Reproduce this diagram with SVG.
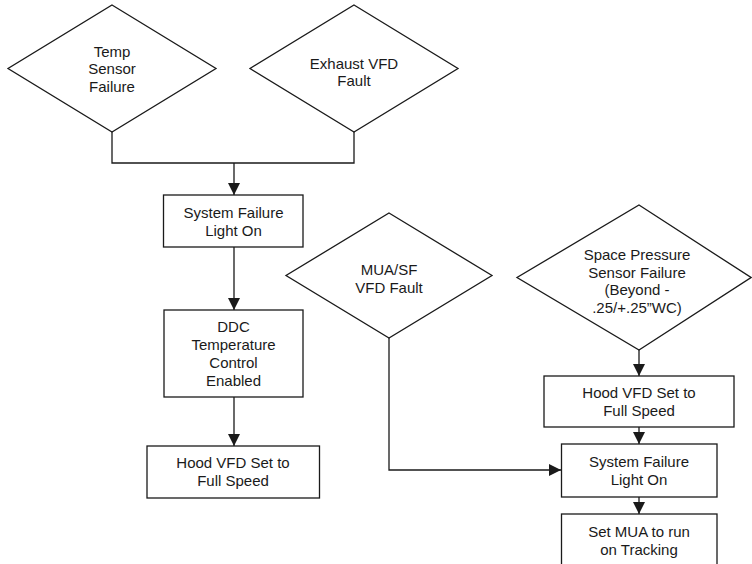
<svg xmlns="http://www.w3.org/2000/svg" width="752" height="564" viewBox="0 0 752 564">
<defs>
<style>
.s{fill:#fff;stroke:#1a1a1a;stroke-width:1.3}
.c{fill:none;stroke:#1a1a1a;stroke-width:1.3}
text{font-family:"Liberation Sans",Arial,sans-serif;font-size:15px;fill:#1a1a1a;text-anchor:middle}
</style>
<marker id="ah" markerUnits="userSpaceOnUse" markerWidth="12" markerHeight="12" viewBox="0 0 10 10" refX="10" refY="5" orient="auto">
<path d="M0,0 L10,5 L0,10 Z" fill="#1a1a1a"/>
</marker>
</defs>
<rect width="752" height="564" fill="#fff"/>
<g id="connectors">
<path class="c" d="M112,132 V163 H354 V132"/>
<path class="c" d="M234,163 V195" marker-end="url(#ah)"/>
<path class="c" d="M234,247 V310" marker-end="url(#ah)"/>
<path class="c" d="M234,397 V446" marker-end="url(#ah)"/>
<path class="c" d="M389,338 V470 H561" marker-end="url(#ah)"/>
<path class="c" d="M639,350 V376" marker-end="url(#ah)"/>
<path class="c" d="M639,427 V444" marker-end="url(#ah)"/>
<path class="c" d="M639,497 V514" marker-end="url(#ah)"/>
</g>
<g id="temp-sensor">
<polygon class="s" points="112,5 216,68.5 112,132 8,68.5"/>
<text x="112" y="57">Temp</text>
<text x="112" y="74">Sensor</text>
<text x="112" y="91.5">Failure</text>
</g>
<g id="exhaust-vfd">
<polygon class="s" points="354,5 458,68.5 354,132 250,68.5"/>
<text x="354" y="68.5">Exhaust VFD</text>
<text x="354" y="86">Fault</text>
</g>
<g id="sys-fail-1">
<rect class="s" x="163.5" y="195" width="139.5" height="52"/>
<text x="233.5" y="218">System Failure</text>
<text x="233.5" y="235.5">Light On</text>
</g>
<g id="ddc">
<rect class="s" x="164" y="310" width="139" height="87"/>
<text x="233.5" y="332">DDC</text>
<text x="233.5" y="350">Temperature</text>
<text x="233.5" y="368">Control</text>
<text x="233.5" y="386">Enabled</text>
</g>
<g id="hood-vfd-1">
<rect class="s" x="147" y="446" width="172.5" height="52"/>
<text x="233" y="468">Hood VFD Set to</text>
<text x="233" y="486">Full Speed</text>
</g>
<g id="mua-sf">
<polygon class="s" points="389,213 492,275.5 389,338 286,275.5"/>
<text x="389" y="275">MUA/SF</text>
<text x="389" y="293">VFD Fault</text>
</g>
<g id="space-pressure">
<polygon class="s" points="639,205 751,277.5 639,350 517,277.5"/>
<text x="637" y="260">Space Pressure</text>
<text x="637" y="278">Sensor Failure</text>
<text x="637" y="295">(Beyond -</text>
<text x="637" y="313">.25/+.25”WC)</text>
</g>
<g id="hood-vfd-2">
<rect class="s" x="544" y="376" width="190" height="51"/>
<text x="639" y="398">Hood VFD Set to</text>
<text x="639" y="416">Full Speed</text>
</g>
<g id="sys-fail-2">
<rect class="s" x="561.5" y="444" width="155.5" height="53"/>
<text x="639" y="467">System Failure</text>
<text x="639" y="485">Light On</text>
</g>
<g id="set-mua">
<rect class="s" x="561.5" y="514" width="155.5" height="60"/>
<text x="639" y="537">Set MUA to run</text>
<text x="639" y="555">on Tracking</text>
</g>
</svg>
